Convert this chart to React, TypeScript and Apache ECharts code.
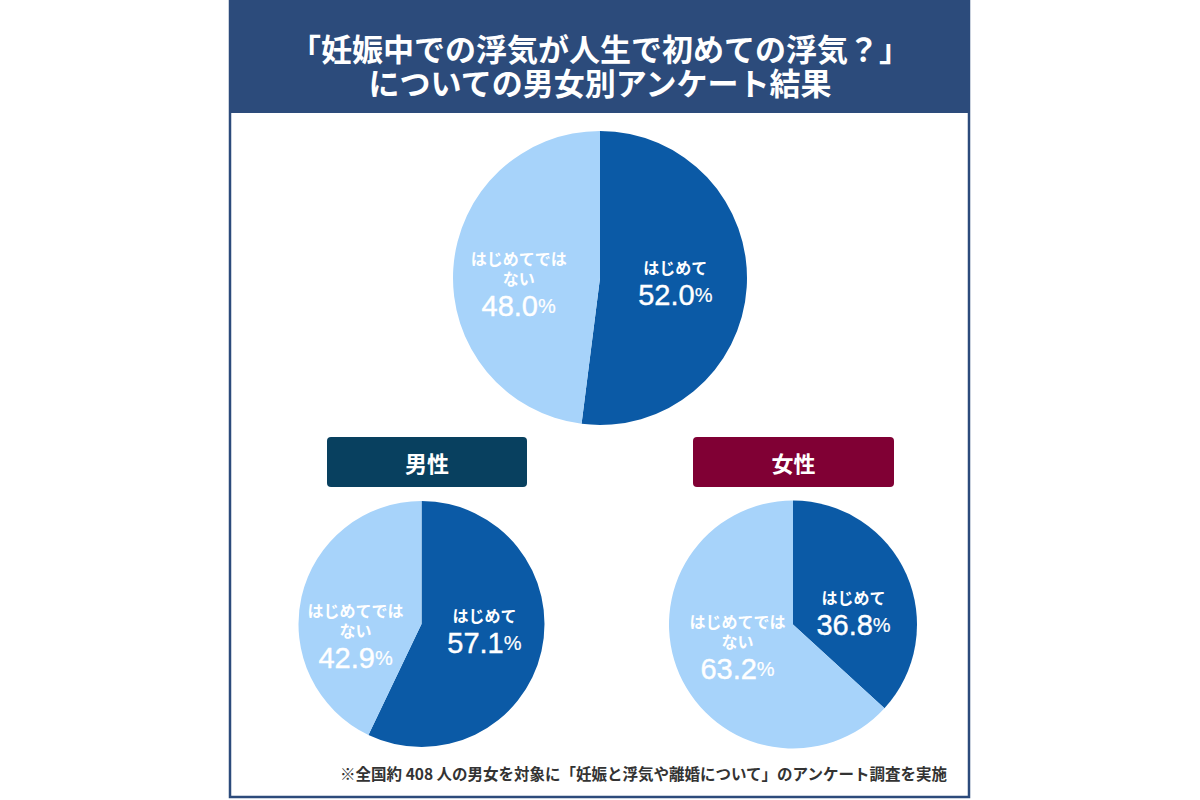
import React, { useEffect, useRef } from "react";
import * as echarts from "echarts";

const titleLines = ["「妊娠中での浮気が人生で初めての浮気？」", "についての男女別アンケート結果"];
const categories = ["はじめて", "はじめてでは\nない"];
const totalValues = [52.0, 48.0];
const maleValues = [57.1, 42.9];
const femaleValues = [36.8, 63.2];
const groupLabels = ["男性", "女性"];
const footnote = "※全国約 408 人の男女を対象に「妊娠と浮気や離婚について」のアンケート調査を実施";

const DARK = "#0b5aa6";
const LIGHT = "#a7d3fa";
const FONT = "'Noto Sans CJK JP', 'Noto Sans', sans-serif";
const NUMFONT = "'Liberation Sans', Arial, 'Noto Sans CJK JP', sans-serif";

// label offsets (dx, dy) per series / data index
const labelOffsets: number[][][] = [
  [[-1, 2], [-5, 13]],
  [[0, -5], [-3, 28]],
  [[1, 17], [4, -2]],
];

function makeData(values: number[]) {
  return categories.map((name, i) => ({
    name,
    value: values[i],
    itemStyle: { color: i === 0 ? DARK : LIGHT },
  }));
}

function pieSeries(values: number[], center: [number, number], r: number, si: number) {
  return {
    type: "pie",
    center,
    radius: [0, r],
    startAngle: 90,
    clockwise: true,
    silent: true,
    data: makeData(values),
    label: {
      show: true,
      position: "inside",
      formatter: (p: any) => {
        const lines = String(p.name).split("\n").map((l: string) => `{n|${l}}`);
        return lines.join("\n") + `\n{v|${p.value.toFixed(1)}}{p|%}`;
      },
      rich: {
        n: { color: "#fff", fontSize: 16, fontWeight: "bold", fontFamily: FONT, lineHeight: 20, align: "center" },
        v: {
          color: "#fff", fontSize: 29, fontFamily: NUMFONT, lineHeight: 36, align: "center",
          textBorderColor: "#fff", textBorderWidth: 0.4,
        },
        p: {
          color: "#fff", fontSize: 20, fontFamily: NUMFONT, lineHeight: 36, align: "center",
          textBorderColor: "#fff", textBorderWidth: 0.2,
        },
      },
    },
    labelLayout: (params: any) => {
      const o = labelOffsets[si]?.[params.dataIndex] || [0, 0];
      return { dx: o[0], dy: o[1] };
    },
    labelLine: { show: false },
    emphasis: { disabled: true },
  };
}

export default function App() {
  const ref = useRef<HTMLDivElement>(null);
  useEffect(() => {
    if (!ref.current) return;
    const chart = echarts.init(ref.current, undefined, { renderer: "svg" });
    chart.setOption({
      animation: false,
      backgroundColor: "#fff",
      series: [
        pieSeries(totalValues, [600, 278], 147, 0),
        pieSeries(maleValues, [421.5, 624], 123, 1),
        pieSeries(femaleValues, [793, 624.5], 124, 2),
      ],
      graphic: [
        {
          type: "rect",
          z: -10,
          shape: { x: 230, y: 1, width: 739, height: 796 },
          style: { fill: "#fff", stroke: "#2c4b7b", lineWidth: 2.5 },
        },
        {
          type: "rect",
          z: -5,
          shape: { x: 229, y: 0, width: 741, height: 113 },
          style: { fill: "#2c4b7b" },
        },
        {
          type: "text",
          x: 600,
          y: 64,
          style: {
            text: titleLines.join("\n"),
            fill: "#fff",
            font: `bold 31px ${FONT}`,
            lineHeight: 34,
            align: "center",
            verticalAlign: "middle",
          },
        },
        {
          type: "rect",
          shape: { x: 327, y: 437, width: 200, height: 50, r: 4 },
          style: { fill: "#08405f" },
        },
        {
          type: "text",
          x: 427,
          y: 462,
          style: {
            text: groupLabels[0],
            fill: "#fff",
            font: `bold 22px ${FONT}`,
            align: "center",
            verticalAlign: "middle",
          },
        },
        {
          type: "rect",
          shape: { x: 693, y: 437, width: 201, height: 50, r: 4 },
          style: { fill: "#800034" },
        },
        {
          type: "text",
          x: 793.5,
          y: 462,
          style: {
            text: groupLabels[1],
            fill: "#fff",
            font: `bold 22px ${FONT}`,
            align: "center",
            verticalAlign: "middle",
          },
        },
        {
          type: "text",
          x: 947,
          y: 773,
          style: {
            text: footnote,
            fill: "#333",
            font: `bold 15.5px ${FONT}`,
            align: "right",
            verticalAlign: "middle",
          },
        },
      ],
    });
    return () => chart.dispose();
  }, []);
  return (
    <div
      ref={ref}
      style={{ position: "absolute", left: 0, top: 0, width: 1200, height: 800 }}
    />
  );
}
